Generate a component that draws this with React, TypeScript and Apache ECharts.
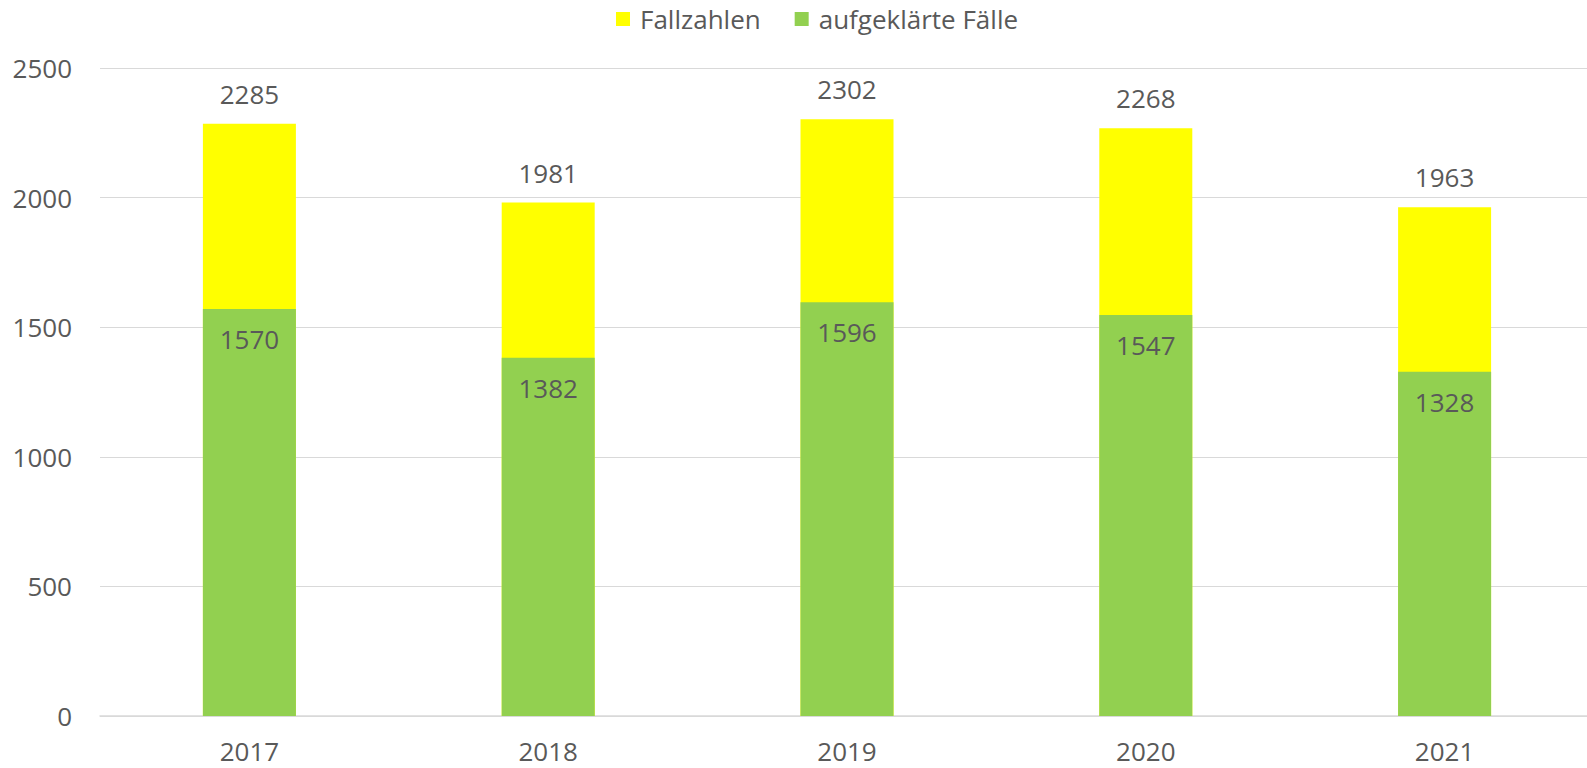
import React, { useEffect, useRef } from "react";
import * as echarts from "echarts";

const categories = ["2017", "2018", "2019", "2020", "2021"];
const fallzahlen = [2285, 1981, 2302, 2268, 1963];
const aufgeklaert = [1570, 1382, 1596, 1547, 1328];
const yTicks = { min: 0, max: 2500, interval: 500 };

const FONT = "'Open Sans', 'Liberation Sans', sans-serif";
const TEXT = "#595959";

export default function App() {
  const ref = useRef<HTMLDivElement>(null);
  useEffect(() => {
    const chart = echarts.init(ref.current!, null, { renderer: "svg" });
    chart.setOption({
      animation: false,
      textStyle: { fontFamily: FONT },
      legend: {
        top: 1,
        left: 611,
        itemWidth: 14,
        itemHeight: 14,
        itemGap: 34,
        icon: "rect",
        textStyle: { fontSize: 26, color: TEXT, fontFamily: FONT, padding: [0, 0, 0, 5] },
        data: ["Fallzahlen", "aufgeklärte Fälle"],
      },
      grid: { left: 100, right: 0, top: 68, bottom: 52 },
      xAxis: {
        type: "category",
        data: categories,
        axisLine: { lineStyle: { color: "#D9D9D9", width: 1.5 } },
        axisTick: { show: false },
        axisLabel: { fontSize: 26, color: TEXT, margin: 22, fontFamily: FONT },
      },
      yAxis: {
        type: "value",
        min: yTicks.min,
        max: yTicks.max,
        interval: yTicks.interval,
        axisLine: { show: false },
        axisTick: { show: false },
        splitLine: { lineStyle: { color: "#D9D9D9", width: 1.2 } },
        axisLabel: {
          fontSize: 26,
          color: TEXT,
          margin: 28,
          fontFamily: FONT,
          formatter: (v: number) => String(v),
        },
      },
      series: [
        {
          name: "Fallzahlen",
          type: "bar",
          data: fallzahlen,
          barWidth: 93,
          barGap: "-100%",
          itemStyle: { color: "#FFFF00" },
          label: {
            show: true,
            position: "top",
            distance: 17,
            fontSize: 26,
            color: TEXT,
            fontFamily: FONT,
          },
        },
        {
          name: "aufgeklärte Fälle",
          type: "bar",
          data: aufgeklaert,
          barWidth: 93,
          barGap: "-100%",
          itemStyle: { color: "#92D050" },
          label: {
            show: true,
            position: "insideTop",
            distance: 17,
            fontSize: 26,
            color: TEXT,
            fontFamily: FONT,
          },
        },
      ],
    });
    return () => chart.dispose();
  }, []);
  return (
    <div style={{ position: "absolute", left: 0, top: 0, width: 1587, height: 768, overflow: "hidden" }}>
      <div ref={ref} style={{ width: 1594, height: 768 }} />
    </div>
  );
}
